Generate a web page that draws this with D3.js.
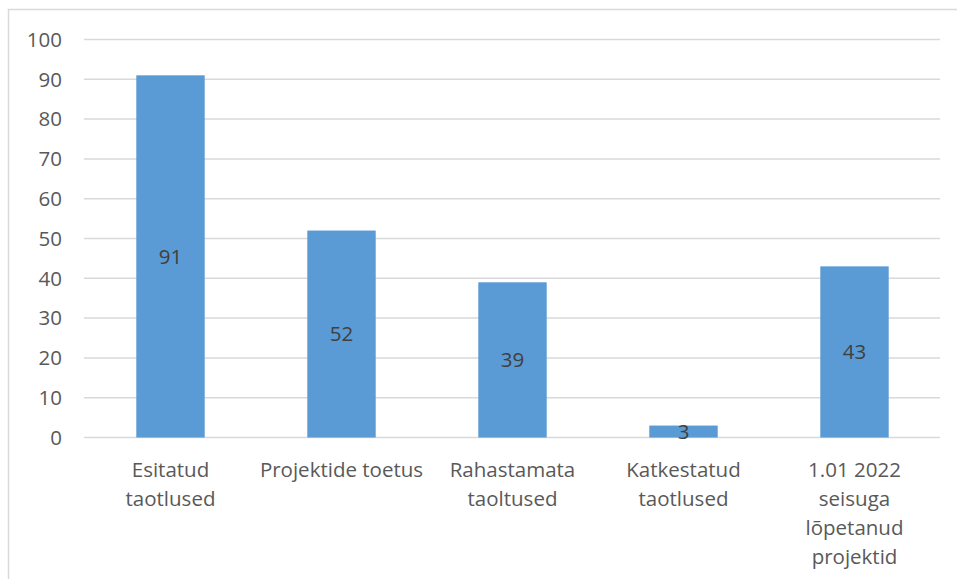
<!DOCTYPE html>
<html lang="et">
  <head>
    <meta charset="UTF-8" />
    <title>Taotlused</title>
    <style>
      body { margin: 0; background: #fff; }
      svg text { font-family: "Open Sans", "Liberation Sans", sans-serif; }
    </style>
  </head>
  <body>
    <svg id="chart" width="957" height="579"></svg>

    <script src="https://d3js.org/d3.v7.min.js"></script>
    <script>
      // category labels (split into lines) and values
      const categories = [
        ["Esitatud", "taotlused"],
        ["Projektide toetus"],
        ["Rahastamata", "taoltused"],
        ["Katkestatud", "taotlused"],
        ["1.01 2022", "seisuga", "lõpetanud", "projektid"]
      ];
      const values = [91, 52, 39, 3, 43];
      const yTicks = [0, 10, 20, 30, 40, 50, 60, 70, 80, 90, 100];

      const svg = d3.select("#chart");
      const plotLeft = 85, plotRight = 940, plotTop = 39.5, plotBottom = 437.5;

      // outer frame (top + left edges visible)
      svg.append("path")
        .attr("d", "M8.5,579 V9.5 H957")
        .attr("fill", "none")
        .attr("stroke", "#d9d9d9")
        .attr("stroke-width", 1.5);

      const x = d3.scaleBand()
        .domain(d3.range(categories.length))
        .range([plotLeft, plotRight])
        .paddingInner(0.6)
        .paddingOuter(0.3);

      const y = d3.scaleLinear().domain([0, 100]).range([plotBottom, plotTop]);

      // gridlines
      svg.append("g")
        .selectAll("line")
        .data(yTicks)
        .enter()
        .append("line")
        .attr("x1", plotLeft - 1)
        .attr("x2", plotRight)
        .attr("y1", d => y(d))
        .attr("y2", d => y(d))
        .attr("stroke", "#d9d9d9")
        .attr("stroke-width", 1.5);

      // y tick labels
      svg.append("g")
        .selectAll("text")
        .data(yTicks)
        .enter()
        .append("text")
        .attr("x", 62)
        .attr("y", d => y(d))
        .attr("dy", "0.36em")
        .attr("text-anchor", "end")
        .attr("font-size", 20.5)
        .attr("fill", "#595959")
        .text(d => d);

      // bars
      svg.append("g")
        .selectAll("rect")
        .data(values)
        .enter()
        .append("rect")
        .attr("x", (d, i) => x(i))
        .attr("width", x.bandwidth())
        .attr("y", d => y(d))
        .attr("height", d => plotBottom - y(d))
        .attr("fill", "#5b9bd5");

      // data labels in the middle of each bar
      svg.append("g")
        .selectAll("text")
        .data(values)
        .enter()
        .append("text")
        .attr("x", (d, i) => x(i) + x.bandwidth() / 2)
        .attr("y", d => (y(d) + plotBottom) / 2)
        .attr("dy", "0.36em")
        .attr("text-anchor", "middle")
        .attr("font-size", 20.5)
        .attr("fill", "#404040")
        .text(d => d);

      // category labels
      const cat = svg.append("g")
        .selectAll("text")
        .data(categories)
        .enter()
        .append("text")
        .attr("x", (d, i) => x(i) + x.bandwidth() / 2)
        .attr("y", 470)
        .attr("text-anchor", "middle")
        .attr("font-size", 20.5)
        .attr("fill", "#595959");

      cat.selectAll("tspan")
        .data((d, i) => d.map(line => ({ line, cx: x(i) + x.bandwidth() / 2 })))
        .enter()
        .append("tspan")
        .attr("x", d => d.cx)
        .attr("dy", (d, j) => (j === 0 ? "0.36em" : 29))
        .text(d => d.line);
    </script>
  </body>
</html>
